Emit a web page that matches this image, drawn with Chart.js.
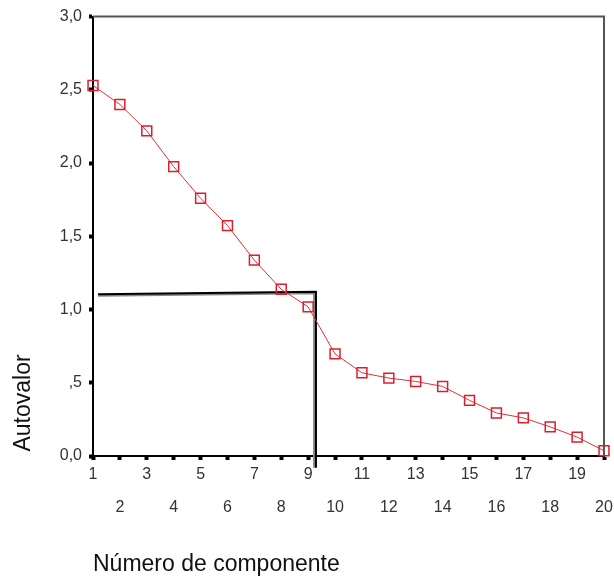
<!DOCTYPE html>
<html>
<head>
<meta charset="utf-8">
<script src="https://cdn.jsdelivr.net/npm/chart.js@4/dist/chart.umd.min.js"></script>
<style>
  html, body { margin: 0; padding: 0; background: #fff; }
  #wrap { width: 614px; height: 580px; position: relative; }
</style>
</head>
<body>
<div id="wrap"><canvas id="c" width="614" height="580"></canvas></div>
<script>
// ---- data ----
const components = [1,2,3,4,5,6,7,8,9,10,11,12,13,14,15,16,17,18,19,20];
const eigenvalues = [2.53,2.40,2.22,1.976,1.76,1.573,1.337,1.138,1.018,0.697,0.568,0.532,0.509,0.475,0.380,0.294,0.260,0.199,0.129,0.036];
const yTickValues = [0,0.5,1,1.5,2,2.5,3];
const yTickLabels = ['0,0', ',5', '1,0', '1,5', '2,0', '2,5', '3,0'];
// hand-drawn reference lines (in data units)
const refBlackX = [1.19, 9.29, 9.29];
const refBlackY = [1.104, 1.122, -0.08];
const refGrayX  = [1.19, 9.22, 9.22];
const refGrayY  = [1.094, 1.112, -0.08];
const xTitle = 'Número de componente';
const yTitle = 'Autovalor';

const toXY = (xs, ys) => xs.map((x, i) => ({x: x, y: ys[i]}));

const decor = {
  id: 'decor',
  beforeDatasetsDraw(chart) {
    const {ctx, chartArea: a} = chart;
    ctx.save();
    ctx.strokeStyle = '#555';
    ctx.lineWidth = 2;
    ctx.beginPath();
    ctx.moveTo(a.left, a.top);
    ctx.lineTo(a.right, a.top);
    ctx.lineTo(a.right, a.bottom);
    ctx.stroke();
    ctx.restore();
  },
  afterDraw(chart) {
    const {ctx} = chart;
    ctx.save();
    ctx.fillStyle = '#111';
    ctx.font = '23px "Liberation Sans", Arial, sans-serif';
    ctx.textBaseline = 'middle';
    ctx.textAlign = 'left';
    ctx.fillText(xTitle, 93, 565);
    ctx.translate(24, 403);
    ctx.rotate(-Math.PI / 2);
    ctx.textAlign = 'center';
    ctx.fillText(yTitle, 0, 0);
    ctx.restore();
  }
};

new Chart(document.getElementById('c'), {
  type: 'line',
  data: {
    datasets: [
      {
        data: toXY(refGrayX, refGrayY),
        borderColor: '#888',
        borderWidth: 2,
        pointRadius: 0,
        tension: 0,
        clip: false,
        order: 2
      },
      {
        data: toXY(refBlackX, refBlackY),
        borderColor: '#000',
        borderWidth: 2,
        pointRadius: 0,
        tension: 0,
        clip: false,
        order: 1
      },
      {
        data: toXY(components, eigenvalues),
        borderColor: '#e0303a',
        borderWidth: 1,
        pointStyle: 'rect',
        pointRadius: 7,
        pointBorderWidth: 1.5,
        pointBorderColor: '#d8202c',
        pointBackgroundColor: 'rgba(0,0,0,0)',
        tension: 0,
        clip: false,
        order: 0
      }
    ]
  },
  options: {
    responsive: false,
    animation: false,
    layout: { padding: { top: 14, right: 10, left: 0, bottom: 0 } },
    plugins: { legend: { display: false }, tooltip: { enabled: false } },
    scales: {
      x: {
        type: 'linear',
        min: 1, max: 20,
        afterFit(s) { s.height = 124; },
        afterBuildTicks(s) { s.ticks = components.map(v => ({value: v})); },
        border: { display: true, color: '#000', width: 2 },
        grid: { display: true, drawOnChartArea: false, drawTicks: true, tickLength: 4, tickWidth: 4, tickColor: '#000' },
        ticks: {
          padding: -2,
          color: '#333',
          maxRotation: 0,
          autoSkip: false,
          font: { family: '"Liberation Sans", Arial, sans-serif', size: 16, lineHeight: '33px' },
          callback(v) { return (v % 2 === 1) ? String(v) : ['', String(v)]; }
        }
      },
      y: {
        min: 0, max: 3,
        afterFit(s) { s.width = 93; },
        afterBuildTicks(s) { s.ticks = yTickValues.map(v => ({value: v})); },
        border: { display: true, color: '#000', width: 2 },
        grid: { display: true, drawOnChartArea: false, drawTicks: true, tickLength: 4, tickWidth: 4, tickColor: '#000' },
        ticks: {
          padding: 7,
          color: '#333',
          autoSkip: false,
          font: { family: '"Liberation Sans", Arial, sans-serif', size: 16 },
          callback(v) { const i = yTickValues.indexOf(v); return i >= 0 ? yTickLabels[i] : ''; }
        }
      }
    }
  },
  plugins: [decor]
});
</script>
</body>
</html>
